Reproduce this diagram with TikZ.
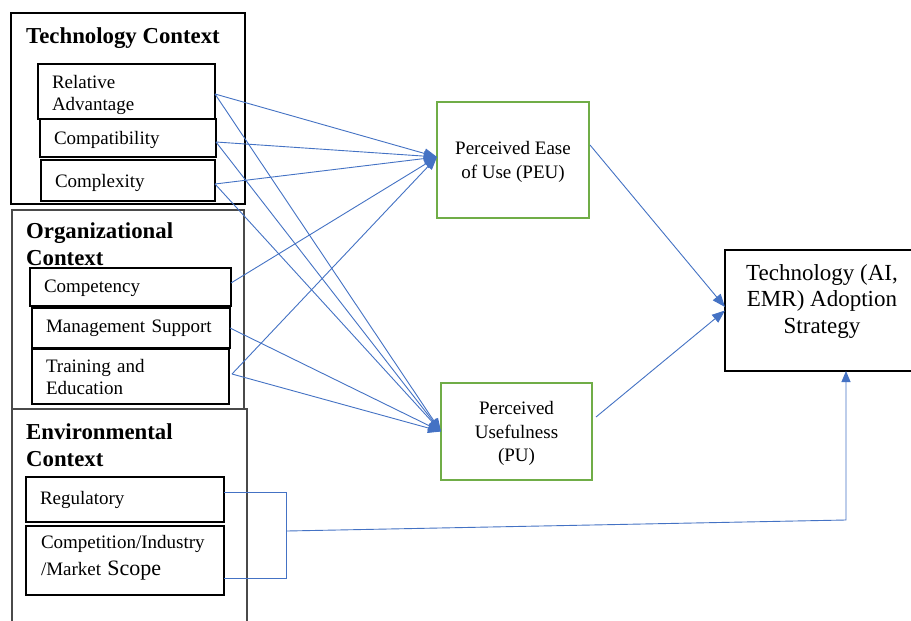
\documentclass[tikz,border=0pt]{standalone}
\usepackage{fontspec}
\setmainfont{Liberation Serif}
\usetikzlibrary{arrows.meta}
\definecolor{lineblue}{HTML}{4472C4}
\definecolor{boxgreen}{HTML}{70AD47}
\definecolor{ctxgray}{HTML}{4A4A4A}
\begin{document}
\begin{tikzpicture}[x=1pt,y=-1pt,
  ctxbox/.style={draw, rectangle, anchor=north west, inner sep=0pt, outer sep=0pt},
  ctxtitle/.style={anchor=base west, inner sep=0pt, font=\fontsize{22.8}{27}\selectfont\bfseries},
  item/.style={draw=black, line width=1.1pt, rectangle, anchor=north west, align=left,
    inner xsep=14pt, inner ysep=0pt, outer sep=0pt, font=\fontsize{19}{22}\selectfont},
  greenbox/.style={draw=boxgreen, line width=2pt, rectangle, anchor=north west, align=center,
    inner sep=0pt, outer sep=0pt, text depth=-3pt, font=\fontsize{19}{23.5}\selectfont},
  conn/.style={draw=lineblue, line width=0.9pt},
  tip/.style={-{Triangle[length=13pt,width=10pt]}}
]
\clip (0,0) rectangle (911,621);
\fill[white] (0,0) rectangle (911,621);

% context boxes
\node[ctxbox, draw=black, line width=2.2pt, minimum width=234pt, minimum height=191pt] (tech) at (11,13) {};
\node[ctxbox, draw=ctxgray, line width=1.3pt, minimum width=232pt, minimum height=199pt] (org) at (12,210) {};
\node[ctxbox, draw=ctxgray, line width=1.3pt, minimum width=235pt, minimum height=240pt] (env) at (12,409) {};

\node[ctxtitle] (techT) at (26,43) {Technology Context};
\node[ctxtitle] (orgT1) at (26,238) {Organizational};
\node[ctxtitle] (orgT2) at (26,265) {Context};
\node[ctxtitle] (envT1) at (26,439) {Environmental};
\node[ctxtitle] (envT2) at (26,466) {Context};

% factor boxes
\node[item, text width=149pt, minimum height=55pt, text depth=20pt] (ra) at (38,64) {Relative\\Advantage};
\node[item, text width=148pt, minimum height=38pt, text depth=0pt] (compat) at (40,119) {Compatibility};
\node[item, text width=146pt, minimum height=41pt, text depth=0pt] (complex) at (41,160) {Complexity};
\node[item, text width=173pt, minimum height=38pt, text depth=2pt] (compet) at (30,268) {Competency};
\node[item, text width=170pt, minimum height=40pt] (mgmt) at (32,308) {Management Support};
\node[item, text width=169pt, minimum height=55pt] (train) at (32,349) {Training and\\Education};
\node[item, text width=170pt, minimum height=45pt] (reg) at (26,477) {Regulatory};
\node[item, text width=168pt, minimum height=69pt, inner xsep=15pt, text depth=38pt,
  font=\fontsize{19}{27}\selectfont] (comp) at (26,526)
  {Competition/Industry\\/Market {\fontsize{22}{27}\selectfont Scope}};

% mediators
\node[greenbox, minimum width=152pt, minimum height=116pt] (peu) at (437,102) {Perceived Ease\\of Use (PEU)};
\node[greenbox, minimum width=151pt, minimum height=97pt] (pu) at (441,383) {Perceived\\Usefulness\\(PU)};

% outcome
\node[draw=black, line width=1.2pt, rectangle, anchor=north west, inner sep=0pt, outer sep=0pt,
  minimum width=195pt, minimum height=121pt] (target) at (725,250) {};
\node[align=center, inner sep=0pt, font=\fontsize{23}{26.5}\selectfont] (targetT) at (822,301)
  {Technology (AI,\\EMR) Adoption\\Strategy};

% connectors to PEU
\draw[conn, tip] ([yshift=-2.5pt]ra.east) -- ([yshift=3pt]peu.west);
\draw[conn, tip] ([yshift=-4pt]compat.east) -- ([yshift=3pt]peu.west);
\draw[conn, tip] ([yshift=-3.5pt]complex.east) -- ([yshift=3pt]peu.west);
\draw[conn, tip] ([yshift=4pt]compet.east) -- ([yshift=3pt]peu.west);
\draw[conn, tip] ([xshift=3pt,yshift=2.5pt]train.east) -- ([yshift=3pt]peu.west);

% connectors to PU
\draw[conn, tip] ([yshift=-2.5pt]ra.east) -- (pu.west);
\draw[conn, tip] ([yshift=-4pt]compat.east) -- (pu.west);
\draw[conn, tip] ([yshift=-3.5pt]complex.east) -- (pu.west);
\draw[conn, tip] (mgmt.east) -- (pu.west);
\draw[conn, tip] ([xshift=3pt,yshift=2.5pt]train.east) -- (pu.west);

% mediators to outcome
\draw[conn, tip] ([xshift=1pt,yshift=15pt]peu.east) -- ([yshift=3.5pt]target.west);
\draw[conn, tip] ([xshift=4pt,yshift=14.5pt]pu.east) -- (target.west);

% environmental bracket
\draw[conn] ([yshift=7.5pt]reg.east) -- ++(62,0) |- ([yshift=-17.5pt]comp.east);
\coordinate (bmid) at (287,531);
\coordinate (bturn) at (846,520);
\draw[conn, -{Triangle[length=11pt,width=9pt]}] (bmid) -- (bturn) -- (bturn |- target.south);
\end{tikzpicture}
\end{document}
